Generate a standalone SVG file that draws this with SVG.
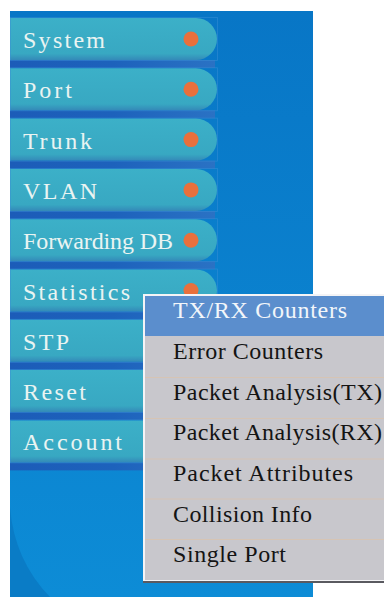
<svg xmlns="http://www.w3.org/2000/svg" width="384" height="597" viewBox="0 0 384 597">
  <defs>
    <linearGradient id="panelGrad" x1="0" y1="0" x2="0" y2="1">
      <stop offset="0" stop-color="#0876c6"/>
      <stop offset="1" stop-color="#0d8cd6"/>
    </linearGradient>
    <linearGradient id="pillGrad" x1="0" y1="0" x2="0" y2="1">
      <stop offset="0" stop-color="#3cb0c8"/>
      <stop offset="0.85" stop-color="#38a8c2"/>
      <stop offset="1" stop-color="#3489b8"/>
    </linearGradient>
    <linearGradient id="bandGrad" x1="0" y1="0" x2="1" y2="0">
      <stop offset="0" stop-color="#1c5cb8"/>
      <stop offset="0.5" stop-color="#1d62bc"/>
      <stop offset="1" stop-color="#2a72c4"/>
    </linearGradient>
    <g id="pill">
      <rect x="10" y="42" width="205" height="8" fill="url(#bandGrad)"/>
      <path d="M10 0 H196 A21 21 0 0 1 196 42 H10 Z" fill="url(#pillGrad)"/>
      <rect x="10.5" y="-0.5" width="207" height="43" fill="none" stroke="#3a8fd6" stroke-width="0.8" opacity="0.6"/>
    </g>
  </defs>
  <style>
    .menu { font-family: "Liberation Serif", "DejaVu Serif", serif; font-size: 24px; fill: #eaf4f2; }
    .dot { fill: #e8703c; }
    .item { font-family: "Liberation Serif", "DejaVu Serif", serif; font-size: 24px; fill: #141414; }
    .sep { stroke: #d6c4b4; stroke-width: 1.2; }
  </style>

  <!-- background panel -->
  <rect x="0" y="0" width="384" height="597" fill="#ffffff"/>
  <rect x="10" y="11" width="303" height="586" fill="url(#panelGrad)"/>
  <path d="M10 507 Q14 560 50 597 L10 597 Z" fill="#0a7cc6"/>

  <g id="nav-system">
    <use href="#pill" y="18"/>
    <text class="menu" x="23" y="48" textLength="82" lengthAdjust="spacing">System</text>
    <circle class="dot" cx="191" cy="39" r="7.5"/>
  </g>
  <g id="nav-port">
    <use href="#pill" y="68.3"/>
    <text class="menu" x="23" y="98.3" textLength="49" lengthAdjust="spacing">Port</text>
    <circle class="dot" cx="191" cy="89.3" r="7.5"/>
  </g>
  <g id="nav-trunk">
    <use href="#pill" y="118.6"/>
    <text class="menu" x="23" y="148.6" textLength="69" lengthAdjust="spacing">Trunk</text>
    <circle class="dot" cx="191" cy="139.6" r="7.5"/>
  </g>
  <g id="nav-vlan">
    <use href="#pill" y="168.9"/>
    <text class="menu" x="23" y="198.9" textLength="74" lengthAdjust="spacing">VLAN</text>
    <circle class="dot" cx="191" cy="189.9" r="7.5"/>
  </g>
  <g id="nav-fdb">
    <use href="#pill" y="219.2"/>
    <text class="menu" x="23" y="249.2" textLength="150" lengthAdjust="spacing">Forwarding DB</text>
    <circle class="dot" cx="191" cy="240.2" r="7.5"/>
  </g>
  <g id="nav-statistics">
    <use href="#pill" y="269.5"/>
    <text class="menu" x="23" y="299.5" textLength="107" lengthAdjust="spacing">Statistics</text>
    <circle class="dot" cx="191" cy="290.5" r="7.5"/>
  </g>
  <g id="nav-stp">
    <use href="#pill" y="319.8"/>
    <text class="menu" x="23" y="349.8" textLength="46" lengthAdjust="spacing">STP</text>
  </g>
  <g id="nav-reset">
    <use href="#pill" y="370.1"/>
    <text class="menu" x="23" y="400.1" textLength="63" lengthAdjust="spacing">Reset</text>
  </g>
  <g id="nav-account">
    <use href="#pill" y="420.4"/>
    <text class="menu" x="23" y="450.4" textLength="99" lengthAdjust="spacing">Account</text>
  </g>

  <!-- popup submenu -->
  <g id="submenu">
    <rect x="143" y="294" width="245" height="289" fill="#5a5a60"/>
    <rect x="143" y="294" width="245" height="287" fill="#f4f4f6"/>
    <rect x="145" y="296" width="243" height="284" fill="#c8c7cc"/>
    <rect x="145" y="296" width="243" height="40" fill="#5b8ecd"/>
    <line class="sep" x1="145" y1="377.5" x2="384" y2="377.5"/>
    <line class="sep" x1="145" y1="418.5" x2="384" y2="418.5"/>
    <line class="sep" x1="145" y1="459" x2="384" y2="459"/>
    <line class="sep" x1="145" y1="499" x2="384" y2="499"/>
    <line class="sep" x1="145" y1="539.5" x2="384" y2="539.5"/>
    <text class="item" x="173" y="318" textLength="174" lengthAdjust="spacing" style="fill:#f2f6fa">TX/RX Counters</text>
    <text class="item" x="173" y="359" textLength="150" lengthAdjust="spacing">Error Counters</text>
    <text class="item" x="173" y="399.5" textLength="209" lengthAdjust="spacing">Packet Analysis(TX)</text>
    <text class="item" x="173" y="440" textLength="209" lengthAdjust="spacing">Packet Analysis(RX)</text>
    <text class="item" x="173" y="481" textLength="180" lengthAdjust="spacing">Packet Attributes</text>
    <text class="item" x="173" y="521.5" textLength="139" lengthAdjust="spacing">Collision Info</text>
    <text class="item" x="173" y="562" textLength="113" lengthAdjust="spacing">Single Port</text>
  </g>
</svg>
